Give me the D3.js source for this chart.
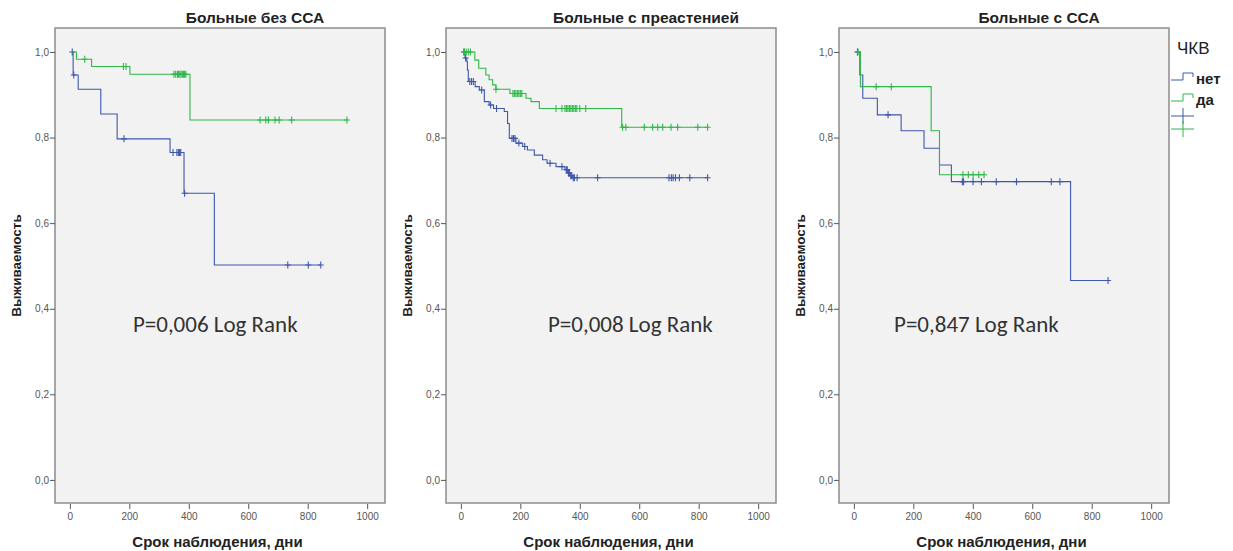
<!DOCTYPE html>
<html>
<head>
<meta charset="utf-8">
<script src="https://cdn.jsdelivr.net/npm/d3@7"></script>
<style>
  body { margin: 0; background: #fff; }
  svg { display: block; }
</style>
</head>
<body>
<svg id="drawing_region"></svg>
<script>
// ---- data ----
const panelTitles = ["Больные без ССА", "Больные с преастенией", "Больные с ССА"];
const pValues = ["P=0,006 Log Rank", "P=0,008 Log Rank", "P=0,847 Log Rank"];
const groupNames = ["нет", "да"];
const xTicks = [0, 200, 400, 600, 800, 1000];
const yTicks = [0.0, 0.2, 0.4, 0.6, 0.8, 1.0];

// panel 1: без ССА
const p1NoTimes = [8, 11, 28, 104, 159, 337, 384, 486];
const p1NoSurv  = [1.0, 0.946, 0.913, 0.855, 0.797, 0.765, 0.670, 0.502];
const p1NoEnd   = 844;
const p1NoCens  = [8, 13, 182, 347, 360, 365, 369, 373, 386, 733, 802, 844];
const p1YesTimes = [8, 22, 73, 202, 404];
const p1YesSurv  = [1.0, 0.983, 0.966, 0.948, 0.841];
const p1YesEnd   = 932;
const p1YesCens  = [50, 180, 189, 350, 356, 362, 366, 370, 374, 378, 382, 386, 390, 640, 659, 668, 690, 704, 746, 932];

// panel 2: с преастенией
const p2NoTimes = [8, 14, 20, 22, 25, 48, 62, 79, 95, 110, 146, 157, 163, 185, 208, 224, 247, 275, 290, 320, 350, 360, 368, 376];
const p2NoSurv  = [1.0, 0.986, 0.977, 0.958, 0.931, 0.919, 0.911, 0.884, 0.876, 0.868, 0.861, 0.833, 0.798, 0.787, 0.779, 0.771, 0.759, 0.748, 0.740, 0.732, 0.725, 0.717, 0.711, 0.706];
const p2NoEnd   = 830;
const p2NoCens  = [10, 16, 30, 36, 42, 70, 100, 120, 172, 177, 182, 195, 215, 300, 340, 355, 358, 362, 365, 370, 373, 378, 382, 391, 460, 700, 708, 714, 722, 735, 770, 830];
const p2YesTimes = [8, 47, 60, 84, 95, 107, 118, 165, 219, 236, 264, 541];
const p2YesSurv  = [1.0, 0.981, 0.962, 0.946, 0.935, 0.923, 0.913, 0.903, 0.892, 0.884, 0.868, 0.824];
const p2YesEnd   = 830;
const p2YesCens  = [12, 18, 25, 32, 118, 175, 180, 185, 190, 195, 200, 205, 320, 340, 350, 355, 360, 365, 370, 375, 380, 385, 390, 400, 420, 544, 555, 617, 645, 662, 679, 707, 729, 797, 830];

// panel 3: с ССА
const p3NoTimes = [10, 20, 30, 79, 159, 236, 288, 328, 729];
const p3NoSurv  = [1.0, 0.946, 0.892, 0.853, 0.816, 0.775, 0.736, 0.697, 0.466];
const p3NoEnd   = 855;
const p3NoCens  = [12, 115, 365, 369, 401, 429, 479, 547, 664, 693, 855];
const p3YesTimes = [10, 22, 260, 288];
const p3YesSurv  = [1.0, 0.919, 0.816, 0.713];
const p3YesEnd   = 438;
const p3YesCens  = [14, 75, 126, 367, 385, 401, 420, 438];

// where the P text sits, in data units (days, survival)
const pAnchorT = [212, 293, 135];
const pAnchorS = 0.346;

const panels = [
    { left: 55,  curves: [[p1NoTimes, p1NoSurv, p1NoEnd, p1NoCens], [p1YesTimes, p1YesSurv, p1YesEnd, p1YesCens]] },
    { left: 446, curves: [[p2NoTimes, p2NoSurv, p2NoEnd, p2NoCens], [p2YesTimes, p2YesSurv, p2YesEnd, p2YesCens]] },
    { left: 839, curves: [[p3NoTimes, p3NoSurv, p3NoEnd, p3NoCens], [p3YesTimes, p3YesSurv, p3YesEnd, p3YesCens]] }
];

const colors = ["#3e58ac", "#2eb848"];
const sansFont = "'Liberation Sans', Arial, sans-serif";

class KMPanel {

    constructor( svg, config, index ) {
        this.svg = svg;
        this.config = config;
        this.index = index;
        this.width = 330;
        this.height = 475;
        this.top = 28;
        this.init();
    }

    init() {
        let self = this;

        self.g = self.svg.append('g')
            .attr('transform', `translate(${self.config.left}, ${self.top})`);

        self.xscale = d3.scaleLinear()
            .domain([-50, 1060])
            .range([0, self.width]);

        self.yscale = d3.scaleLinear()
            .domain([-0.054, 1.056])
            .range([self.height, 0]);

        self.line = d3.line()
            .x(d => self.xscale(d[0]))
            .y(d => self.yscale(d[1]))
            .curve(d3.curveStepAfter);
    }

    render() {
        let self = this;
        const fmt = v => d3.format(".1f")(v).replace(".", ",");

        self.g.append('rect')
            .attr('width', self.width)
            .attr('height', self.height)
            .attr('fill', '#f2f2f2')
            .attr('stroke', '#8c8c8c')
            .attr('stroke-width', 1.5);

        // y axis
        const yaxis = self.g.append('g')
            .call(d3.axisLeft(self.yscale).tickValues(yTicks).tickSize(5).tickFormat(fmt));
        yaxis.select('.domain').remove();
        yaxis.selectAll('line').attr('stroke', '#555');
        yaxis.selectAll('text')
            .attr('font-family', sansFont)
            .attr('font-size', 10)
            .attr('fill', '#555')
            .attr('x', -6);

        // x axis
        const xaxis = self.g.append('g')
            .attr('transform', `translate(0, ${self.height + 1})`)
            .call(d3.axisBottom(self.xscale).tickValues(xTicks).tickSize(5).tickFormat(d3.format("d")));
        xaxis.select('.domain').remove();
        xaxis.selectAll('line').attr('stroke', '#555');
        xaxis.selectAll('text')
            .attr('font-family', sansFont)
            .attr('font-size', 10)
            .attr('fill', '#555')
            .attr('y', 9);

        // titles
        self.g.append('text')
            .attr('x', self.width / 2 + 35)
            .attr('y', -5)
            .attr('text-anchor', 'middle')
            .attr('font-family', sansFont)
            .attr('font-weight', 'bold')
            .attr('font-size', 15.5)
            .attr('fill', '#222')
            .text(panelTitles[self.index]);

        self.g.append('text')
            .attr('transform', `translate(-34, ${self.height / 2}) rotate(-90)`)
            .attr('text-anchor', 'middle')
            .attr('font-family', sansFont)
            .attr('font-weight', 'bold')
            .attr('font-size', 13.5)
            .attr('fill', '#222')
            .text('Выживаемость');

        self.g.append('text')
            .attr('x', self.xscale(500) - 1)
            .attr('y', self.height + 44)
            .attr('text-anchor', 'middle')
            .attr('font-family', sansFont)
            .attr('font-weight', 'bold')
            .attr('font-size', 15)
            .attr('fill', '#222')
            .text('Срок наблюдения, дни');

        // curves
        self.config.curves.forEach( (c, i) => {
            const times = c[0], surv = c[1], end = c[2], cens = c[3];
            const pts = times.map( (t, k) => [t, surv[k]] );
            pts.push([end, surv[surv.length - 1]]);

            self.g.append('path')
                .attr('d', self.line(pts))
                .attr('fill', 'none')
                .attr('stroke', colors[i])
                .attr('stroke-width', 1.1);

            const survAt = t => {
                let s = surv[0];
                times.forEach( (tt, k) => { if (tt <= t) s = surv[k]; });
                return s;
            };

            self.g.selectAll(null)
                .data(cens)
                .enter()
                .append('path')
                .attr('d', t => {
                    const x = self.xscale(t), y = self.yscale(survAt(t));
                    return `M${x - 3},${y}H${x + 3}M${x},${y - 3.5}V${y + 3.5}`;
                })
                .attr('stroke', colors[i])
                .attr('stroke-width', 1.1)
                .attr('fill', 'none');
        });

        // P value
        self.g.append('text')
            .attr('x', self.xscale(pAnchorT[self.index]))
            .attr('y', self.yscale(pAnchorS))
            .attr('font-family', "Carlito, Calibri, Lato, sans-serif")
            .attr('font-size', 23)
            .attr('fill', '#333')
            .text(pValues[self.index]);
    }
}

const svg = d3.select('#drawing_region')
    .attr('width', 1233)
    .attr('height', 551);

panels.forEach( (p, i) => {
    const panel = new KMPanel( svg, p, i );
    panel.render();
});

// legend
const legend = svg.append('g');
legend.append('text')
    .attr('x', 1177)
    .attr('y', 54)
    .attr('font-family', sansFont)
    .attr('font-size', 17)
    .attr('fill', '#222')
    .text('ЧКВ');

const legendY = [80, 101];
groupNames.forEach( (name, i) => {
    const y = legendY[i];
    legend.append('path')
        .attr('d', `M1171,${y}H1183V${y - 7}H1193V${y - 3}`)
        .attr('fill', 'none')
        .attr('stroke', colors[i])
        .attr('stroke-width', 1);
    legend.append('text')
        .attr('x', 1196)
        .attr('y', y + 4)
        .attr('font-family', sansFont)
        .attr('font-weight', 'bold')
        .attr('font-size', 15)
        .attr('fill', '#222')
        .text(name);
});

const plusY = [116, 129];
colors.forEach( (c, i) => {
    const y = plusY[i];
    legend.append('path')
        .attr('d', `M1171,${y}H1194M1183,${y - 8}V${y + 8}`)
        .attr('fill', 'none')
        .attr('stroke', c)
        .attr('stroke-width', 1);
});
</script>
</body>
</html>
